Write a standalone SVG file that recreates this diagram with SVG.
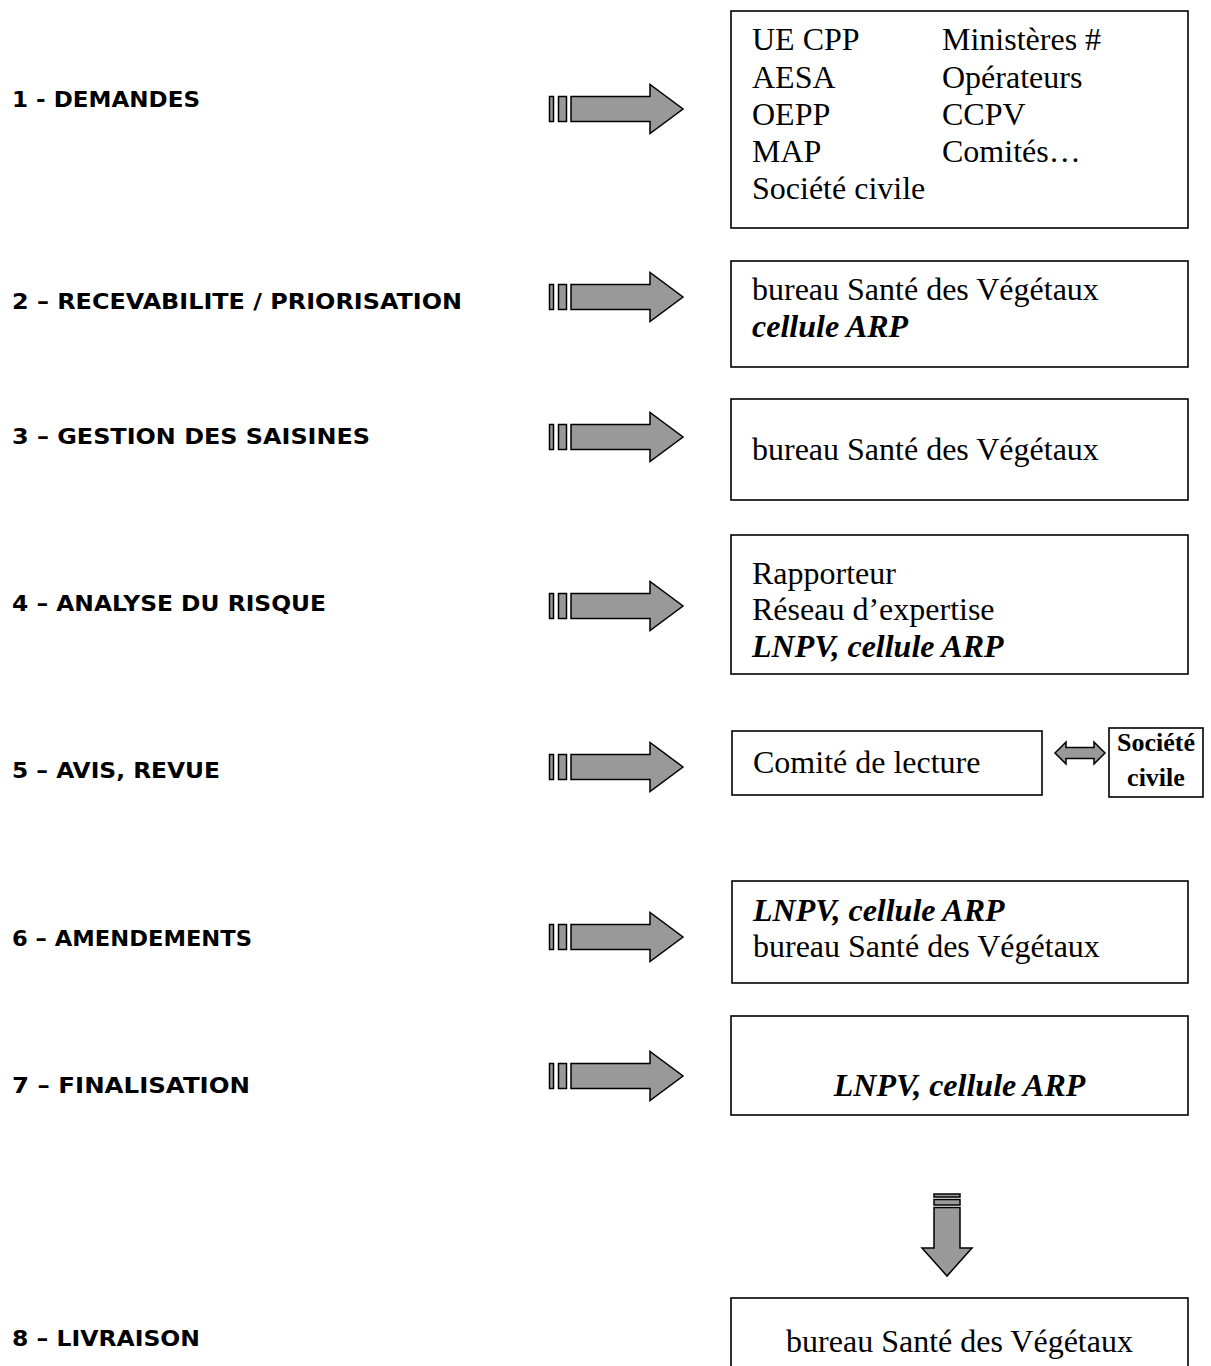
<svg xmlns="http://www.w3.org/2000/svg" xmlns:xlink="http://www.w3.org/1999/xlink" width="1211" height="1366" viewBox="0 0 1211 1366">
<style>
.lbl{font-family:"DejaVu Sans","Liberation Sans",sans-serif;font-weight:bold;font-size:21px;fill:#000}
.t{font-family:"Liberation Serif","Times New Roman",serif;font-size:32px;fill:#000}
.bi{font-weight:bold;font-style:italic}
.box{fill:#fff;stroke:#000;stroke-width:1.6}
.arr{fill:#999;stroke:#000;stroke-width:1.5;stroke-linejoin:miter}
</style>
<defs>
<g id="rarrow">
<rect class="arr" x="549.5" y="-12.5" width="4" height="25"/>
<rect class="arr" x="558.5" y="-12.5" width="8" height="25"/>
<path class="arr" d="M571,-12.5 H650 V-24.5 L683,0 L650,24.5 V12.5 H571 Z"/>
</g>
</defs>
<rect width="1211" height="1366" fill="#fff"/>
<g id="labels">
<text class="lbl" x="12" y="107" textLength="188" lengthAdjust="spacingAndGlyphs">1 - DEMANDES</text>
<text class="lbl" x="12" y="309" textLength="450" lengthAdjust="spacingAndGlyphs">2 – RECEVABILITE / PRIORISATION</text>
<text class="lbl" x="12" y="444" textLength="358" lengthAdjust="spacingAndGlyphs">3 – GESTION DES SAISINES</text>
<text class="lbl" x="12" y="611" textLength="314" lengthAdjust="spacingAndGlyphs">4 – ANALYSE DU RISQUE</text>
<text class="lbl" x="12" y="778" textLength="208" lengthAdjust="spacingAndGlyphs">5 – AVIS, REVUE</text>
<text class="lbl" x="12" y="946" textLength="240" lengthAdjust="spacingAndGlyphs">6 – AMENDEMENTS</text>
<text class="lbl" x="12" y="1093" textLength="238" lengthAdjust="spacingAndGlyphs">7 – FINALISATION</text>
<text class="lbl" x="12" y="1346" textLength="188" lengthAdjust="spacingAndGlyphs">8 – LIVRAISON</text>
</g>
<g id="connectors">
<use xlink:href="#rarrow" href="#rarrow" transform="translate(0,109)"/>
<use xlink:href="#rarrow" href="#rarrow" transform="translate(0,297)"/>
<use xlink:href="#rarrow" href="#rarrow" transform="translate(0,437)"/>
<use xlink:href="#rarrow" href="#rarrow" transform="translate(0,606)"/>
<use xlink:href="#rarrow" href="#rarrow" transform="translate(0,767)"/>
<use xlink:href="#rarrow" href="#rarrow" transform="translate(0,937)"/>
<use xlink:href="#rarrow" href="#rarrow" transform="translate(0,1076)"/>
<rect class="arr" x="934" y="1194" width="26" height="3"/>
<rect class="arr" x="934" y="1199.5" width="26" height="5.5"/>
<path class="arr" d="M934,1207.5 H960 V1248 H972 L947,1276 L922,1248 H934 Z"/>
<path class="arr" d="M1055,753 L1066,742 V747.5 H1094 V742 L1105,753 L1094,764 V758.5 H1066 V764 Z"/>
</g>
<g id="node1">
<rect class="box" x="731" y="11" width="457" height="217"/>
<text class="t" x="752" y="50">UE CPP</text>
<text class="t" x="752" y="88">AESA</text>
<text class="t" x="752" y="125">OEPP</text>
<text class="t" x="752" y="162">MAP</text>
<text class="t" x="752" y="199">Société civile</text>
<text class="t" x="942" y="50">Ministères #</text>
<text class="t" x="942" y="88">Opérateurs</text>
<text class="t" x="942" y="125">CCPV</text>
<text class="t" x="942" y="162">Comités…</text>
</g>
<g id="node2">
<rect class="box" x="731" y="261" width="457" height="106"/>
<text class="t" x="752" y="300">bureau Santé des Végétaux</text>
<text class="t bi" x="752" y="337">cellule ARP</text>
</g>
<g id="node3">
<rect class="box" x="731" y="399" width="457" height="101"/>
<text class="t" x="752" y="460">bureau Santé des Végétaux</text>
</g>
<g id="node4">
<rect class="box" x="731" y="535" width="457" height="139"/>
<text class="t" x="752" y="584">Rapporteur</text>
<text class="t" x="752" y="620">Réseau d’expertise</text>
<text class="t bi" x="752" y="657">LNPV, cellule ARP</text>
</g>
<g id="node5">
<rect class="box" x="732" y="731" width="310" height="64"/>
<text class="t" x="753" y="773">Comité de lecture</text>
</g>
<g id="node5b">
<rect class="box" x="1109" y="728" width="94" height="69"/>
<text class="t" x="1156" y="751" style="font-size:26px;font-weight:bold" text-anchor="middle">Société</text>
<text class="t" x="1156" y="786" style="font-size:26px;font-weight:bold" text-anchor="middle">civile</text>
</g>
<g id="node6">
<rect class="box" x="732" y="881" width="456" height="102"/>
<text class="t bi" x="753" y="921">LNPV, cellule ARP</text>
<text class="t" x="753" y="957">bureau Santé des Végétaux</text>
</g>
<g id="node7">
<rect class="box" x="731" y="1016" width="457" height="99"/>
<text class="t bi" x="959.5" y="1096" text-anchor="middle">LNPV, cellule ARP</text>
</g>
<g id="node8">
<rect class="box" x="731" y="1298" width="457" height="90"/>
<text class="t" x="959.5" y="1352" text-anchor="middle">bureau Santé des Végétaux</text>
</g>
</svg>
